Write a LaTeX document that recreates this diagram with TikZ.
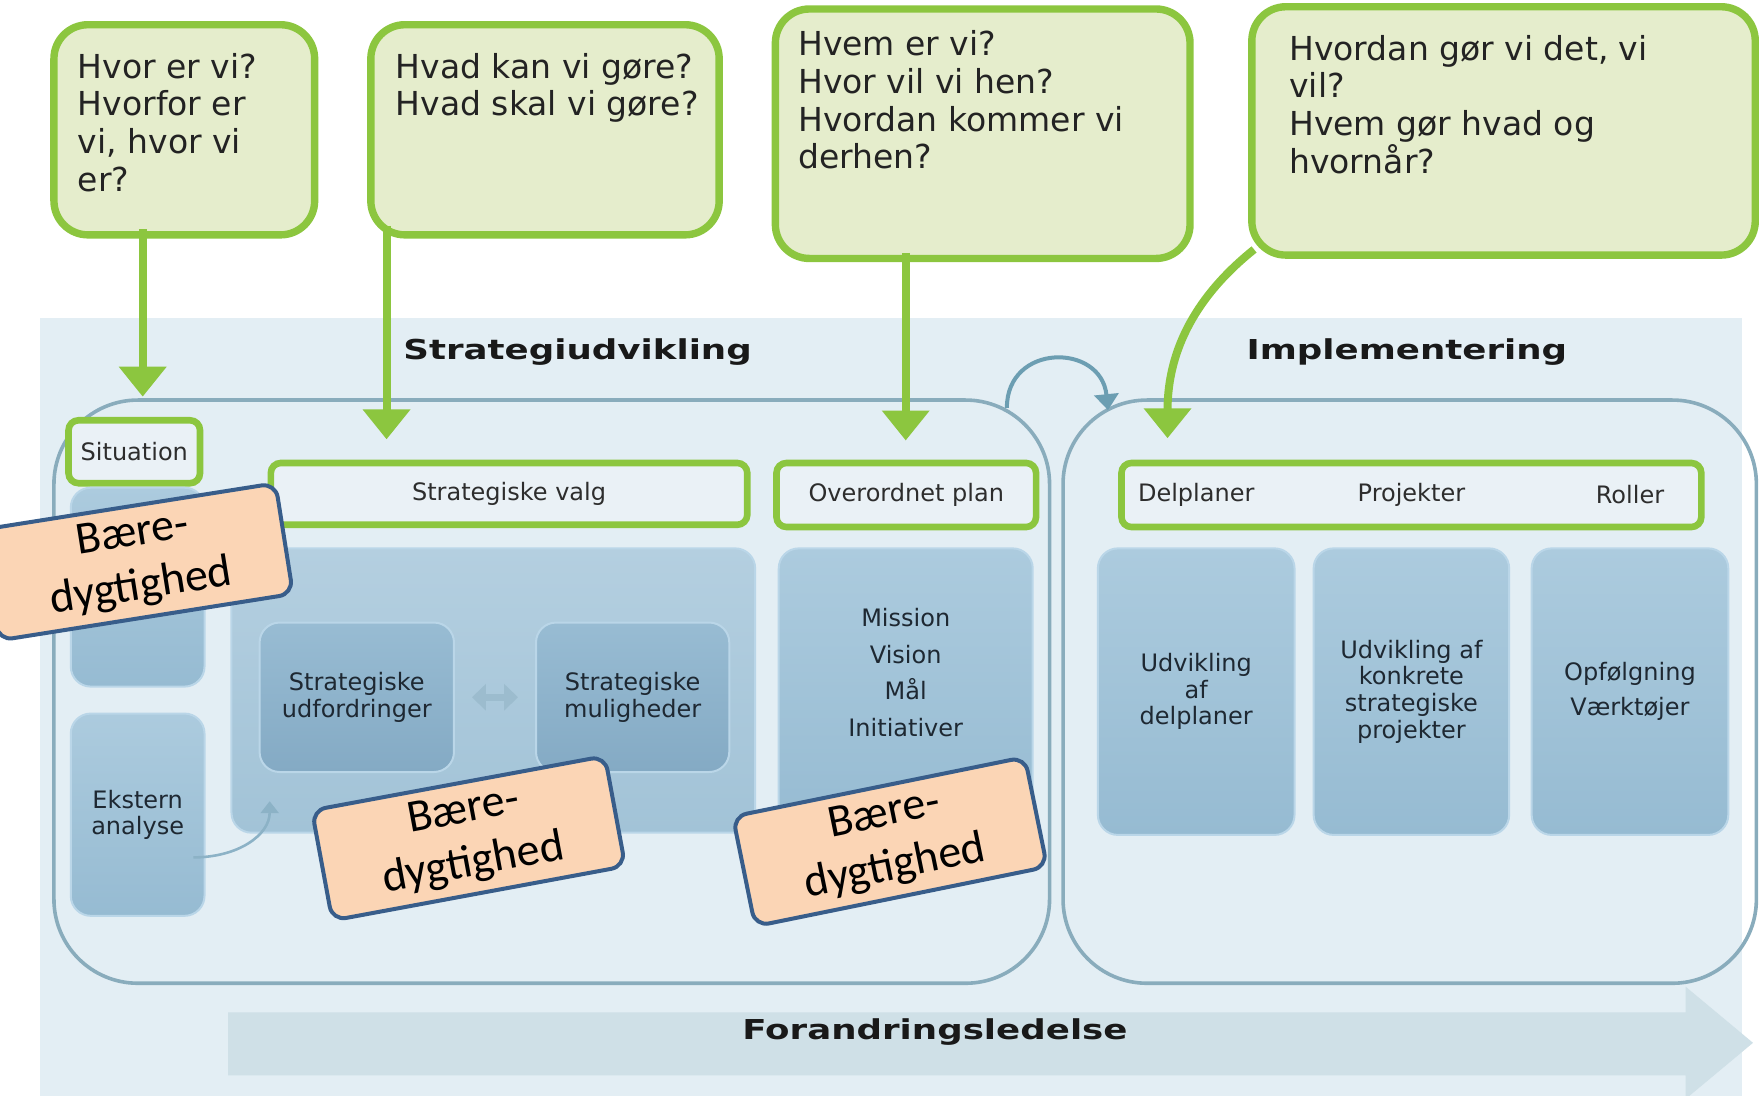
\documentclass[tikz,border=0pt]{standalone}
\usepackage{fontspec}
\setmainfont{DejaVu Sans}
\newfontfamily\hdrfont[FakeStretch=1.3]{DejaVu Sans}
\newfontfamily\tagfont{Carlito}
\usepackage{tikz}
\usetikzlibrary{arrows.meta}
\usetikzlibrary{calc}
\usetikzlibrary{fit}
\definecolor{qgreen}{RGB}{140,198,63}
\definecolor{qfill}{RGB}{229,237,204}
\definecolor{qtxt}{RGB}{35,35,35}
\definecolor{panel}{RGB}{227,238,244}
\definecolor{barfill}{RGB}{234,241,246}
\definecolor{grpline}{RGB}{137,172,188}
\definecolor{boxtop}{RGB}{172,203,222}
\definecolor{boxbot}{RGB}{150,187,210}
\definecolor{boxedge}{RGB}{186,214,232}
\definecolor{dboxtop}{RGB}{152,188,211}
\definecolor{dboxbot}{RGB}{132,170,196}
\definecolor{midtop}{RGB}{180,207,224}
\definecolor{midbot}{RGB}{162,195,215}
\definecolor{boxtxt}{RGB}{30,40,50}
\definecolor{lbltxt}{RGB}{45,45,45}
\definecolor{hdrtxt}{RGB}{25,25,25}
\definecolor{tagfill}{RGB}{251,213,181}
\definecolor{tagline}{RGB}{56,93,138}
\definecolor{flowbar}{RGB}{207,224,231}
\definecolor{cycblue}{RGB}{108,158,178}
\definecolor{faintc}{RGB}{140,178,198}
\definecolor{dblc}{RGB}{156,188,206}
\tikzstyle{question}=[draw=qgreen,line width=3.7pt,fill=qfill,rounded corners=17pt,inner sep=0pt,outer sep=0pt]
\tikzstyle{qtext}=[anchor=north west,inner sep=0pt,align=left,text=qtxt,font=\fontsize{16.5}{18.8}\selectfont]
\tikzstyle{bar}=[draw=qgreen,line width=3.3pt,fill=barfill,rounded corners=5pt,inner sep=0pt,outer sep=0pt]
\tikzstyle{lbl}=[inner sep=0pt,text=lbltxt,font=\fontsize{12}{14}\selectfont]
\tikzstyle{phase}=[draw=grpline,line width=1.8pt,rounded corners=42pt,inner sep=0pt,outer sep=0pt]
\tikzstyle{bluebox}=[rounded corners=10pt,draw=boxedge,line width=1pt,top color=boxtop,bottom color=boxbot,inner sep=0pt,outer sep=0pt]
\tikzstyle{darkbox}=[bluebox,top color=dboxtop,bottom color=dboxbot]
\tikzstyle{boxtext}=[inner sep=0pt,align=center,text=boxtxt,font=\fontsize{12}{13.3}\selectfont]
\tikzstyle{baretag}=[draw=tagline,line width=2pt,fill=tagfill,rounded corners=7pt,minimum width=149pt,minimum height=56pt,align=center,inner sep=2pt,font=\tagfont\fontsize{23}{27}\selectfont]
\tikzstyle{hdr}=[inner sep=0pt,text=hdrtxt,font=\hdrfont\bfseries\fontsize{13.7}{16}\selectfont]
\tikzstyle{garrow}=[draw=qgreen,line width=4pt,-{Triangle[length=15pt,width=23pt]}]
\tikzstyle{loopar}=[draw=cycblue,line width=2pt,-{Triangle[length=8pt,width=12pt]}]
\tikzstyle{faint}=[draw=faintc,line width=1.3pt,-{Triangle[length=6pt,width=9pt]}]
\tikzstyle{dbl}=[draw=dblc,line width=3.5pt,{Triangle[length=7pt,width=13pt]}-{Triangle[length=7pt,width=13pt]},shorten >=9pt,shorten <=9pt]
\begin{document}
\begin{tikzpicture}[x=0.5619pt,y=-0.5619pt]
\useasboundingbox (0,0) rectangle (1568,975);
% background and change-management arrow
\fill[panel] (36,283) rectangle (1550,975);
\fill[flowbar] (203,901) -- (1500,901) -- (1500,878) -- (1560,928) -- (1500,978) -- (1500,957) -- (203,957) -- cycle;
\node[hdr] (flow) at (832,918) {Forandringsledelse};
\node[hdr] (hstrat) at (514,313) {Strategiudvikling};
\node[hdr] (himpl) at (1252,313) {Implementering};
\node[phase, fit={(48,356) (934,875)}] (strat) {};
\node[phase, fit={(946,356) (1563,875)}] (impl) {};
% questions
\node[question, fit={(48,22) (280,209)}] (q1) {};
\node[question, fit={(330,22) (640,209)}] (q2) {};
\node[question, fit={(690,8) (1059,230)}] (q3) {};
\node[question, fit={(1114,6) (1562,227)}] (q4) {};
\node[qtext] (q1t) at ([shift={(21,25)}]q1.north west) {Hvor er vi?\\Hvorfor er\\vi, hvor vi\\er?};
\node[qtext] (q2t) at ([shift={(22,25)}]q2.north west) {Hvad kan vi gøre?\\Hvad skal vi gøre?};
\node[qtext] (q3t) at ([shift={(20,19)}]q3.north west) {Hvem er vi?\\Hvor vil vi hen?\\Hvordan kommer vi\\derhen?};
\node[qtext] (q4t) at ([shift={(33,25)}]q4.north west) {Hvordan gør vi det, vi\\vil?\\Hvem gør hvad og\\hvornår?};
\coordinate (a1) at (127,353);
\coordinate (a2) at (344,391);
\coordinate (a3) at (806,392);
\coordinate (a4) at (1039,390);
\draw[garrow] ($(q1.south -| a1)+(0,-5)$) -- (a1);
\draw[garrow] ($(q2.south -| a2)+(0,-8)$) -- (a2);
\draw[garrow] ($(q3.south -| a3)+(0,-5)$) -- (a3);
\draw[garrow] ($(q4.south west)+(2,-5)$) .. controls (1066,262) and (1039,310) .. (a4);
\coordinate (c1) at (896,363);
\coordinate (c2) at (986,365);
\draw[loopar] (c1) .. controls (896,305) and (980,305) .. (c2);
% bars
\node[bar, fit={(61,374) (178,430)}] (sit) {};
\node[bar, fit={(241,412) (665,467)}] (valg) {};
\node[bar, fit={(691,412) (922,469)}] (overplan) {};
\node[bar, fit={(998,412) (1514,469)}] (impbar) {};
\node[lbl] (sitt) at (sit) {Situation};
\node[lbl] (valgt) at (valg) {Strategiske valg};
\node[lbl] (overplant) at (overplan) {Overordnet plan};
% boxes
\node[bluebox, fit={(63,434) (182,611)}] (sitbox) {};
\node[bluebox, fit={(63,635) (182,815)}] (ekst) {};
\node[bluebox, top color=midtop, bottom color=midbot, fit={(206,488) (672,741)}] (valgbox) {};
\node[darkbox, fit={(231,554) (404,687)}] (udf) {};
\node[darkbox, fit={(477,554) (649,687)}] (mul) {};
\node[bluebox, fit={(693,488) (919,741)}] (planbox) {};
\node[bluebox, fit={(977,488) (1152,743)}] (r1) {};
\node[bluebox, fit={(1169,488) (1343,743)}] (r2) {};
\node[bluebox, fit={(1363,488) (1538,743)}] (r3) {};
\node[boxtext] (ekstt) at (ekst) {Ekstern\\analyse};
\node[boxtext] (udft) at (udf) {Strategiske\\udfordringer};
\node[boxtext] (mult) at (mul) {Strategiske\\muligheder};
\node[boxtext, font=\fontsize{12}{18.2}\selectfont] (plantxt) at ([yshift=9pt]planbox.center) {Mission\\Vision\\Mål\\Initiativer};
\node[boxtext] (r1t) at (r1) {Udvikling\\af\\delplaner};
\node[boxtext] (r2t) at (r2) {Udvikling af\\konkrete\\strategiske\\projekter};
\node[boxtext, font=\fontsize{12}{17.4}\selectfont] (r3t) at (r3) {Opfølgning\\Værktøjer};
\node[lbl] (tdel) at (impbar.center -| r1) {Delplaner};
\node[lbl] (tproj) at (impbar.center -| r2) {Projekter};
\node[lbl] (trol) at (impbar.center -| r3) {Roller};
\draw[faint] ($(ekst.east)+(-10,38)$) .. controls +(40,0) and +(0,30) .. ($(valgbox.south west)+(34,-28)$);
\draw[dbl] (udf) -- (mul);
% tags
\node[baretag, rotate=9] (tag1) at (122,500) {Bære-\\dygtighed};
\node[baretag, rotate=10.5] (tag2) at (417,746) {Bære-\\dygtighed};
\node[baretag, rotate=11.5] (tag3) at (792,749) {Bære-\\dygtighed};
\end{tikzpicture}
\end{document}
